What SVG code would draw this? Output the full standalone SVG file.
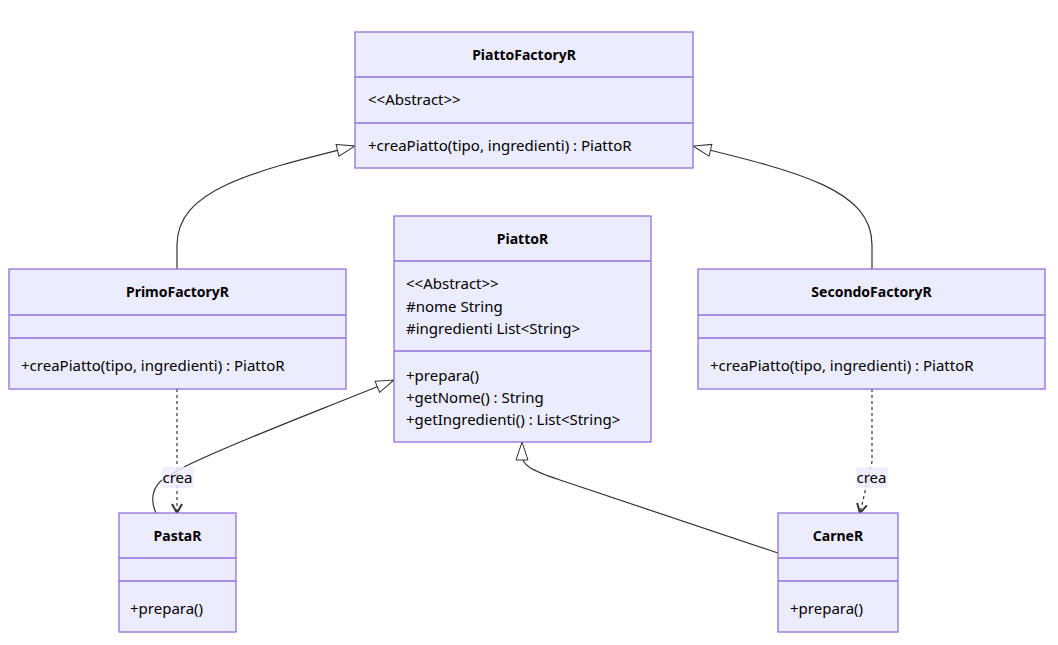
<svg xmlns="http://www.w3.org/2000/svg" width="1058" height="645" viewBox="0 0 1058 645">
<style>
.box{fill:#ECECFF;stroke:#9370DB;stroke-width:1.3}
.div{stroke:#9370DB;stroke-width:1.3}
.t{font-family:"Noto Sans","DejaVu Sans",sans-serif;font-size:15px;fill:#000}
.b{font-weight:bold;text-anchor:middle;font-size:14px}
.e{fill:none;stroke:#333;stroke-width:1.2}
.d{stroke-dasharray:3,3}
.lb{fill:#ECECFF;opacity:0.85}
</style>
<defs>
<marker id="ext" viewBox="0 0 20 14" refX="19" refY="7" markerWidth="20" markerHeight="14" markerUnits="userSpaceOnUse" orient="auto">
<path d="M1,1 L19,7 L1,13 Z" fill="#fff" stroke="#333" stroke-width="1"/>
</marker>
<marker id="dep" viewBox="0 0 12 12" refX="11" refY="6" markerWidth="12" markerHeight="12" markerUnits="userSpaceOnUse" orient="auto">
<path d="M2,1 L11,6 L2,11" fill="none" stroke="#333" stroke-width="2"/>
</marker>
</defs>
<g id="connectors">
<path class="e" d="M177,269 L177,245 C177,190 250,172 355,146" marker-end="url(#ext)"/>
<path class="e" d="M872,269 L872,245 C872,190 800,172 693,146" marker-end="url(#ext)"/>
<path class="e" d="M156,513 C150,500 152,486 165,478 L186,466 C240,440 300,418 394,380" marker-end="url(#ext)"/>
<path class="e" d="M778,553 L560,480 C530,470 522,465 522,455 L522,442" marker-end="url(#ext)"/>
<path class="e d" d="M177,389 L177,513" marker-end="url(#dep)"/>
<path class="e d" d="M872,389 L872,462 L860,513" marker-end="url(#dep)"/>
<rect class="lb" x="162" y="467" width="32" height="21"/>
<text class="t" x="177.5" y="482.5" text-anchor="middle">crea</text>
<rect class="lb" x="856" y="467" width="32" height="21"/>
<text class="t" x="871.5" y="482.5" text-anchor="middle">crea</text>
</g>
<g id="PiattoFactoryR">
<rect class="box" x="355" y="32" width="338" height="136"/>
<line class="div" x1="355" y1="77" x2="693" y2="77"/>
<line class="div" x1="355" y1="123" x2="693" y2="123"/>
<text class="t b" x="524" y="60">PiattoFactoryR</text>
<text class="t" x="368" y="105">&lt;&lt;Abstract&gt;&gt;</text>
<text class="t" x="368" y="151">+creaPiatto(tipo, ingredienti) : PiattoR</text>
</g>
<g id="PrimoFactoryR">
<rect class="box" x="9" y="269" width="337" height="120"/>
<line class="div" x1="9" y1="315" x2="346" y2="315"/>
<line class="div" x1="9" y1="338" x2="346" y2="338"/>
<text class="t b" x="177.5" y="297">PrimoFactoryR</text>
<text class="t" x="21" y="371">+creaPiatto(tipo, ingredienti) : PiattoR</text>
</g>
<g id="PiattoR">
<rect class="box" x="394" y="216" width="257" height="226"/>
<line class="div" x1="394" y1="261" x2="651" y2="261"/>
<line class="div" x1="394" y1="351" x2="651" y2="351"/>
<text class="t b" x="522.5" y="244">PiattoR</text>
<text class="t" x="406" y="289">&lt;&lt;Abstract&gt;&gt;</text>
<text class="t" x="406" y="312">#nome String</text>
<text class="t" x="406" y="334">#ingredienti List&lt;String&gt;</text>
<text class="t" x="406" y="381">+prepara()</text>
<text class="t" x="406" y="403">+getNome() : String</text>
<text class="t" x="406" y="425">+getIngredienti() : List&lt;String&gt;</text>
</g>
<g id="SecondoFactoryR">
<rect class="box" x="698" y="269" width="347" height="120"/>
<line class="div" x1="698" y1="315" x2="1045" y2="315"/>
<line class="div" x1="698" y1="338" x2="1045" y2="338"/>
<text class="t b" x="871.5" y="297">SecondoFactoryR</text>
<text class="t" x="710" y="371">+creaPiatto(tipo, ingredienti) : PiattoR</text>
</g>
<g id="PastaR">
<rect class="box" x="119" y="513" width="117" height="119"/>
<line class="div" x1="119" y1="558" x2="236" y2="558"/>
<line class="div" x1="119" y1="581" x2="236" y2="581"/>
<text class="t b" x="177.5" y="541">PastaR</text>
<text class="t" x="130" y="614">+prepara()</text>
</g>
<g id="CarneR">
<rect class="box" x="778" y="513" width="120" height="119"/>
<line class="div" x1="778" y1="558" x2="898" y2="558"/>
<line class="div" x1="778" y1="581" x2="898" y2="581"/>
<text class="t b" x="838" y="541">CarneR</text>
<text class="t" x="790" y="614">+prepara()</text>
</g>
</svg>
